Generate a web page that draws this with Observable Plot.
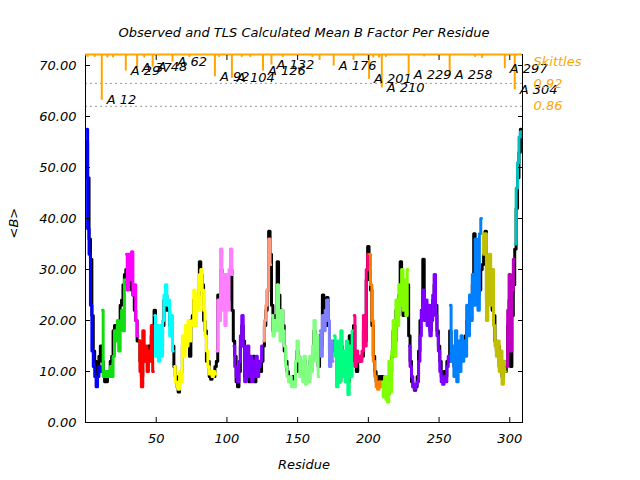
<!DOCTYPE html>
<html><head><meta charset="utf-8">
<script src="https://cdn.jsdelivr.net/npm/d3@7"></script>
<script src="https://cdn.jsdelivr.net/npm/@observablehq/plot@0.6"></script>
<style>body{margin:0;background:#fff}</style>
</head><body><div id="chart"></div>
<script>
// TLS calculated mean B per residue (residues 1..308)
const tlsB = [
 57.5, 38, 33, 23, 14, 11, 9, 7, 9, 11, 10,
 22, 9, 10, 9, 10, 9, 11, 9, 13, 18, 16, 20, 14, 19, 22, 18, 28,
 33, 26, 33, 28, 33.5, 25, 27, 20, 17,
 16, 10, 7, 18, 12, 15, 10, 14, 12, 19, 10,
 21, 13, 19, 12, 19, 13, 20, 25, 27, 23, 24, 17, 21, 14,
 11, 8, 7, 6.5, 10, 8, 17, 13, 19, 15, 20, 16, 19, 20, 26, 19, 25, 22, 29, 30, 26, 22, 17, 14, 11, 9.5, 10, 9, 10, 9.5,
 14, 24, 20, 34, 22, 29, 19, 29, 22, 30, 34, 29,
 15, 11, 9, 8, 12, 17, 21, 15, 8, 10, 15, 9, 13, 8, 12, 9, 13, 9, 11, 12, 15,
 16, 20, 23, 26, 36, 31,
 21, 17, 20, 18, 27, 20, 16, 22, 18, 15, 11, 9, 8, 9, 7, 8, 7, 12, 16, 13, 9, 12, 8, 13, 7.5, 11, 8, 13, 10, 15, 20, 12, 17, 9,
 18, 13, 21, 18, 22, 24, 20, 11, 16, 12,
 17, 13, 7, 16, 8, 18, 9, 14, 8, 16, 5.5, 15, 9, 18,
 21, 11, 14, 12, 13, 12, 14, 21, 15, 30, 33,
 33, 27, 20, 12, 9, 7, 6.5, 8, 7,
 8, 5, 9, 4.5, 4, 12, 6, 14, 20, 13, 24, 19, 27, 23, 30, 22, 28, 21, 30,
 15, 11, 9, 7, 6.5, 7.5, 8, 12, 17, 22, 26, 20, 24, 19, 23, 17, 20, 25, 29, 21, 17, 14, 10, 8, 7.5, 9, 8, 11, 13,
 23, 12, 15, 9, 18, 8, 16, 10, 17, 12, 16, 13, 23, 17, 25, 20, 29, 23, 36, 24, 22, 37, 40,
 37, 33, 37, 20, 32, 33, 23, 30, 19, 15, 13, 16, 10, 14, 7.5, 12, 10,
 11, 22, 29, 14, 26, 32,
 35, 46, 51, 56, 57
];
// Observed mean B per residue
const obsB = [
 55, 48, 36, 32, 21, 14, 12, 9, 10, 13, 15,
 12, 10, 8, 8, 9, 10, 12, 13, 18, 19, 17, 19, 18, 23, 24, 27, 29,
 30, 28, 27, 29, 26, 25, 22, 20, 16,
 16, 12, 9, 14, 13, 14, 12, 15, 13, 17, 14,
 22, 16, 17, 14, 16, 15, 19, 24, 25, 22, 22, 19, 18, 15,
 11, 9, 7, 6, 9, 10, 15, 15, 17, 17, 18, 13, 20, 21, 24, 22, 23, 25, 31.5, 29, 27, 20, 18, 12, 12, 9, 8.5, 9, 9, 11,
 12, 25, 22, 30, 25, 27, 23, 27, 24, 28, 30, 22,
 16, 13, 8, 7, 10, 15, 19, 16, 9, 10, 13, 8, 12, 10, 13, 8, 12, 10, 12, 10, 12,
 15, 19, 22, 26, 37.5, 33,
 23, 18, 19, 21, 31.5, 25, 20, 22, 19, 14, 12, 10, 9, 8, 8, 9, 9, 10, 14, 13, 10, 11, 9, 12, 8, 10, 8.5, 12, 11, 14, 18, 13, 15, 11,
 17, 15, 25, 21, 19, 24.5, 19, 14, 15, 14,
 16, 14, 9, 13, 8, 15, 11, 12, 9, 15, 8, 17, 12, 16,
 19, 12, 10, 12, 12, 13, 13, 18, 16, 28, 34.5,
 30, 26, 19, 13, 10, 8, 7, 9, 8,
 9, 7, 8, 6, 5.5, 9, 10, 13, 18, 16, 22, 21, 25, 31.5, 25, 21, 24, 23, 27,
 17, 12, 8, 7, 6.3, 7, 9, 14, 20, 22, 32, 23, 21, 20, 22, 18, 22, 24, 27, 23, 18, 15, 12, 9, 8, 10, 9, 12, 12,
 18, 14, 12, 11, 14, 11, 13, 12, 15, 13, 14, 17, 20, 19, 22, 24, 27, 37, 30, 27, 25, 26, 30,
 31, 33, 37.5, 24, 28, 26, 25, 22, 21, 16, 14, 15, 11, 12, 9, 11, 10,
 12, 19, 24, 11, 21, 27,
 34, 42, 48, 53, 57.5
];
const groupStart = [1, 12, 29, 38, 49, 63, 93, 105, 126, 132, 166, 176, 190, 201, 210, 229, 258, 281, 298, 304];
const groupColor = ["#0000ff", "#11dd11", "#ff00ff", "#ff0000", "#00ffff", "#ffff00", "#ff80ff", "#8000ff", "#ff9980", "#80ff80",
  "#8080ff", "#00ff80", "#ff0080", "#ff8000", "#80ff00", "#8000ff", "#0080ff", "#c0c000", "#c000c0", "#00c0c0"];

// Skittles: TLS group boundaries
const skitRes = [12, 29, 37, 48, 62, 92, 104, 126, 132, 166, 176, 190, 201, 210, 229, 258, 281, 297, 304];
const skitB = [63.2, 68.9, 69.6, 69.7, 70.7, 67.8, 67.5, 68.9, 70.1, 71.0, 69.9, 71.0, 67.3, 65.6, 68.2, 68.1, 71.4, 69.4, 65.2];
const skitShown = [1, 1, 1, 1, 1, 1, 1, 1, 1, 0, 1, 0, 1, 1, 1, 1, 0, 1, 1];
const skitMinorRes = [2, 7, 16, 20, 42, 74, 95, 111, 117, 140, 161, 204, 208, 213, 240, 276];
const skitMinorB = [71.6, 71.6, 71.5, 71.5, 71.5, 71.6, 71.6, 71.6, 71.6, 71.6, 71.6, 71.5, 71.5, 71.6, 71.7, 71.6];
const refB = [66.5, 62.0];
const refLabels = ["0.92", "0.86"];
const skittlesTitleB = 70.8;

const yTicks = [0, 10, 20, 30, 40, 50, 60, 70];
const xTicks = [50, 100, 150, 200, 250, 300];
const title = "Observed and TLS Calculated Mean B Factor Per Residue";
const xLabel = "Residue";
const yLabel = "<B>";
const yTop = 72.16;

const residues = d3.range(1, tlsB.length + 1);
const rows = residues.map((r, i) => ({res: r, tls: tlsB[i], obs: obsB[i], group: d3.bisectRight(groupStart, r) - 1}));
const skit = skitRes.map((r, i) => ({res: r, b: skitB[i], shown: skitShown[i]}));
const skitMinor = skitMinorRes.map((r, i) => ({res: r, b: skitMinorB[i]}));

const chart = Plot.plot({
  width: 640, height: 480,
  marginLeft: 85, marginRight: 118, marginTop: 54, marginBottom: 58,
  style: {fontFamily: "DejaVu Sans", fontStyle: "italic", fontSize: "13px", background: "white", color: "black"},
  x: {domain: [0, 309]},
  y: {domain: [0, yTop]},
  marks: [
    Plot.ruleY(refB, {stroke: "#999999", strokeDasharray: "2,3"}),
    Plot.line(rows, {x: "res", y: "obs", stroke: "black", strokeWidth: 3, curve: "step"}),
    Plot.line(rows, {x: "res", y: "tls", z: "group", stroke: d => groupColor[d.group], strokeWidth: 3, curve: "step"}),
    Plot.frame({stroke: "black"}),
    Plot.ruleX(skit, {x: d => d.res - 0.5, y1: yTop, y2: "b", stroke: "orange", strokeWidth: 2}),
    Plot.ruleX(skitMinor, {x: d => d.res - 0.5, y1: yTop, y2: "b", stroke: "orange", strokeWidth: 2}),
    Plot.ruleY([yTop], {stroke: "orange", strokeWidth: 2}),
    Plot.axisY(yTicks, {anchor: "left", tickSize: -5, tickPadding: 14, tickFormat: d3.format(".2f"), label: null}),
    Plot.axisY(yTicks, {anchor: "right", tickSize: -5, tickFormat: () => "", label: null}),
    Plot.axisX(xTicks, {anchor: "bottom", tickSize: -5, tickPadding: 16, label: null}),
    Plot.axisX(xTicks, {anchor: "top", tickSize: -5, tickFormat: () => "", label: null}),
    Plot.text(skit.filter(d => d.shown), {x: d => d.res - 0.5, y: "b", text: d => "A " + d.res, dx: 5, textAnchor: "start", fill: "black"}),
    Plot.text(refLabels, {y: (d, i) => refB[i], frameAnchor: "right", dx: 11, textAnchor: "start", fill: "orange"}),
    Plot.text(["Skittles"], {y: () => skittlesTitleB, frameAnchor: "right", dx: 11, textAnchor: "start", fill: "orange"}),
    Plot.text([title], {frameAnchor: "top", dy: -27, fontSize: 13}),
    Plot.text([xLabel], {frameAnchor: "bottom", dy: 46}),
    Plot.text([yLabel], {frameAnchor: "left", dx: -72, rotate: -90})
  ]
});
document.getElementById("chart").appendChild(chart);
</script>
</body></html>
